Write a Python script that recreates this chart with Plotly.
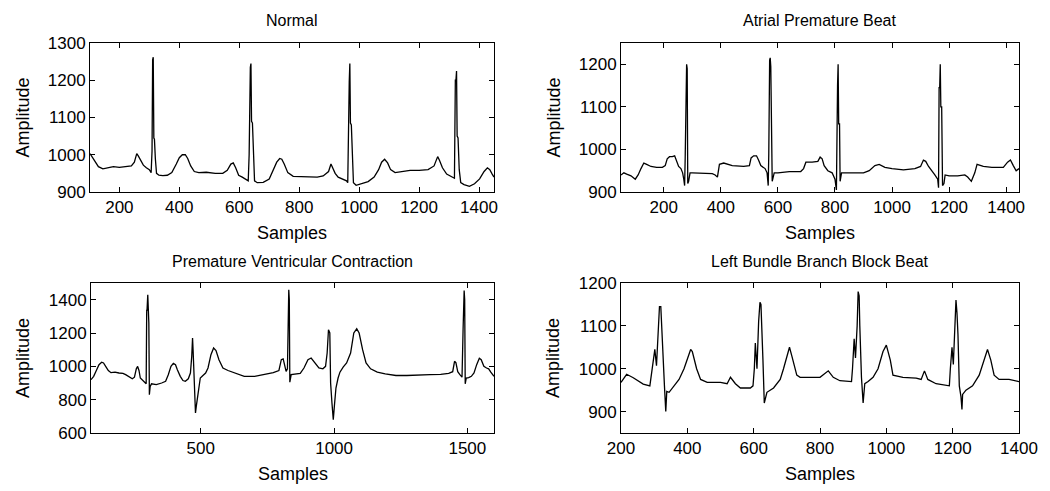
import plotly.graph_objects as go

# ---------------- data ----------------
normal_x = [102, 112, 120, 130, 145, 160, 180, 200, 220, 240, 250, 258, 263, 270, 280, 290, 300, 306,
            309, 311, 313, 315, 317, 320, 324, 332, 345, 360, 375, 390, 400, 410, 420, 428, 438, 450,
            465, 490, 520, 545, 560, 572, 580, 588, 598, 610, 622, 630, 633, 635, 637, 639, 641, 644,
            647, 651, 660, 680, 700, 715, 725, 735, 742, 750, 762, 780, 830, 860, 880, 898, 906, 912,
            920, 930, 945, 958, 962, 965, 967, 969, 971, 974, 977, 981, 990, 1010, 1030, 1050, 1065,
            1075, 1085, 1095, 1105, 1120, 1140, 1170, 1200, 1230, 1250, 1262, 1268, 1278, 1292, 1305,
            1318, 1321, 1323, 1325, 1327, 1330, 1334, 1339, 1350, 1368, 1385, 1402, 1417, 1428, 1436,
            1444, 1450]
normal_y = [1003, 990, 978, 968, 962, 965, 968, 966, 968, 970, 980, 1003, 997, 985, 972, 965, 960, 952,
            1010, 1255, 1262, 1045, 1042, 990, 950, 945, 944, 945, 952, 975, 992, 1000, 1000, 990, 970,
            955, 952, 953, 950, 950, 958, 975, 978, 965, 945, 940, 935, 930, 1000, 1235, 1235, 1245,
            1090, 1085, 1000, 930, 925, 926, 935, 960, 980, 990, 988, 975, 952, 942, 942, 940, 943,
            955, 975, 965, 950, 940, 935, 930, 925, 1195, 1195, 1245, 1085, 1080, 1000, 925, 918, 922,
            928, 940, 960, 980, 988, 978, 960, 952, 955, 958, 958, 960, 970, 995, 985, 965, 948, 942,
            937, 1200, 1200, 1225, 1050, 1045, 960, 925, 920, 915, 922, 935, 955, 965, 960,
            948, 940]

apb_x = [50, 60, 70, 85, 100, 110, 120, 130, 140, 155, 175, 195, 205, 212, 220, 230, 238, 245, 252,
         260, 266, 270, 273, 275, 278, 280, 282, 284, 287, 292, 300, 340, 370, 380, 388, 395, 410,
         440, 480, 500, 506, 515, 525, 532, 540, 555, 562, 566, 568, 571, 573, 575, 577, 580, 587,
         600, 640, 680, 690, 698, 720, 740, 748, 755, 762, 775, 790, 800, 805, 807, 809, 811, 813,
         816, 818, 823, 860, 900, 920, 940, 955, 975, 1000, 1040, 1080, 1100, 1110, 1118, 1128,
         1140, 1150, 1160, 1163, 1165, 1167, 1169, 1171, 1174, 1177, 1182, 1186, 1200, 1230, 1255,
         1265, 1278, 1290, 1298, 1320, 1350, 1390, 1405, 1415, 1425, 1435, 1445]
apb_y = [940, 945, 942, 938, 930, 940, 955, 968, 965, 960, 958, 958, 962, 978, 983, 983, 985, 970, 960,
         955, 945, 930, 915, 980, 1190, 1200, 1190, 920, 925, 945, 945, 943, 943, 940, 935, 965, 968,
         962, 960, 962, 980, 985, 985, 975, 962, 955, 945, 915, 990, 1210, 1215, 1195, 995, 925, 945,
         945, 948, 948, 955, 970, 970, 972, 982, 978, 962, 950, 945, 930, 905, 1150, 1150, 1200, 1060,
         1060, 925, 945, 945, 945, 950, 962, 965, 958, 955, 952, 955, 960, 975, 972, 960,
         950, 940, 930, 910, 1145, 1145, 1200, 1100, 1100, 915, 920, 940, 938, 938, 940,
         935, 925, 945, 965, 960, 958, 958, 970, 975, 962, 950, 955]

pvc_x = [88, 98, 108, 118, 128, 135, 143, 153, 163, 178, 193, 208, 218, 231, 243, 251, 258, 263, 268,
         273, 282, 291, 295, 297, 298, 301, 303, 305, 307, 310, 315, 333, 353, 368, 378, 388, 397,
         405, 412, 423, 433, 442, 453, 461, 466, 469, 471, 474, 477, 480, 483, 489, 498, 508, 518,
         527, 538, 548, 557, 568, 583, 602, 633, 663, 702, 743, 772, 793, 802, 809, 815, 820, 825,
         829, 830, 832, 834, 839, 853, 873, 887, 902, 914, 928, 943, 958, 968, 974, 979, 984,
         987, 992, 997, 1001, 1007, 1015, 1022, 1034, 1047, 1062, 1074, 1085, 1094, 1107, 1120,
         1137, 1162, 1192, 1232, 1273, 1322, 1360, 1400, 1430, 1445, 1452, 1457, 1464, 1472, 1480,
         1484, 1486, 1488, 1490, 1492, 1496, 1505, 1515, 1525, 1535, 1545, 1552, 1562, 1572, 1580,
         1588, 1600]
pvc_y = [920, 940, 975, 1010, 1025, 1020, 1000, 975, 962, 965, 960, 958, 950, 935, 925, 935, 985, 1000,
         975, 930, 915, 905, 895, 1340, 1330, 1430, 1260, 1260, 830, 880, 895, 890, 900, 910, 950, 1000,
         1018, 1010, 980, 940, 915, 910, 925, 960, 1060, 1170, 1100, 1000, 820, 720, 760, 830, 930, 945,
         960, 990, 1070, 1110, 1095, 1040, 990, 975, 955, 940, 940, 955, 962, 975, 1040, 1045, 990, 970,
         985, 1460, 1460, 1400, 905, 950, 952, 958, 990, 1040, 1050, 1020, 990, 985, 1000, 1080, 1220,
         1200, 900, 780, 680, 760, 870, 930, 965, 995, 1020, 1080, 1200, 1225, 1200, 1100, 1020,
         985, 965, 955, 945, 945, 950, 950, 952, 958, 968, 1030, 1022, 968, 950, 935,
         1220, 1450, 1455, 1400, 895, 930, 932, 940, 960, 1010, 1048, 1040, 1000, 990, 985,
         965, 940]

lbbb_x = [200, 217, 237, 267, 287, 292, 302, 307, 312, 316, 320, 323, 327, 331, 335, 338, 345, 360,
          375, 390, 400, 410, 415, 428, 440, 460, 500, 520, 530, 545, 560, 590, 598, 602, 605, 610,
          615, 619, 622, 625, 628, 632, 635, 640, 660, 680, 690, 708, 715, 730, 740, 800, 825, 840,
          860, 895, 898, 903, 907, 912, 915, 918, 920, 925, 930, 935, 945, 960, 975, 990, 1000, 1012,
          1020, 1050, 1090, 1105, 1115, 1125, 1150, 1185, 1190, 1193, 1198, 1202, 1205, 1210, 1213,
          1216, 1220, 1225, 1228, 1230, 1240, 1260, 1280, 1295, 1305, 1315, 1325, 1340, 1370, 1400]
lbbb_y = [968, 987, 979, 964, 960, 991, 1045, 1007, 1090, 1145, 1145, 1085, 1040, 960, 900, 947, 945,
          960, 975, 1000, 1025, 1045, 1040, 1000, 975, 968, 968, 965, 980, 965, 955, 955, 960, 1000,
          1060, 1000, 1110, 1155, 1150, 1100, 1020, 920, 930, 945, 955, 975, 1000, 1050, 1030, 985,
          980, 980, 995, 980, 972, 970, 1000, 1070, 1025, 1100, 1180, 1170, 1100, 980, 920, 965, 970,
          980, 1000, 1040, 1055, 1020, 985, 980, 978, 975, 995, 975, 965, 962, 960, 1000, 1050, 1010,
          1060, 1160, 1130, 1080, 960, 935, 905, 940, 950, 960, 985, 1020, 1045, 1020, 985, 975, 975,
          970]

titles = ["Normal", "Atrial Premature Beat", "Premature Ventricular Contraction",
          "Left Bundle Branch Block Beat"]
x_ranges = [[102, 1450], [50, 1445], [88, 1600], [200, 1400]]
y_ranges = [[900, 1300], [900, 1250], [600, 1500], [850, 1200]]
x_dticks = [200, 200, 500, 200]
y_dticks = [100, 100, 200, 100]
x_label = "Samples"
y_label = "Amplitude"

# ---------------- layout geometry (page pixels) ----------------
# the page body keeps its default 8px margin, so the figure is sized to fit the window
OFF = 8
W, H = 1050 - OFF, 491 - OFF
boxes = [(90, 494, 43, 192), (621, 1019, 43, 192), (91, 494, 283, 433), (621, 1019, 283, 433)]


def fx(px):
    return (px - OFF) / W


def fy(py):
    return 1 - (py - OFF) / H


series = [(normal_x, normal_y), (apb_x, apb_y), (pvc_x, pvc_y), (lbbb_x, lbbb_y)]

fig = go.Figure()
font_family = "Liberation Sans, Arial, Helvetica, sans-serif"
annotations = []
for i, ((xs, ys), (l, r, t, b)) in enumerate(zip(series, boxes)):
    n = "" if i == 0 else str(i + 1)
    fig.add_trace(go.Scatter(x=xs, y=ys, mode="lines", line=dict(color="black", width=1.3),
                             xaxis="x" + n, yaxis="y" + n, showlegend=False, hoverinfo="skip"))
    common = dict(showline=True, linecolor="black", linewidth=1, mirror="ticks", ticks="inside",
                  ticklen=5, tickcolor="black", showgrid=False, zeroline=False, automargin=False,
                  tickfont=dict(family=font_family, size=17, color="black"))
    fig.layout["xaxis" + n] = dict(domain=[fx(l), fx(r)], range=x_ranges[i], anchor="y" + n,
                                   dtick=x_dticks[i], tick0=0, **common)
    fig.layout["yaxis" + n] = dict(domain=[fy(b), fy(t)], range=y_ranges[i], anchor="x" + n,
                                   dtick=y_dticks[i], tick0=0, **common)
    cx = (l + r) / 2
    annotations.append(dict(text=titles[i], x=fx(cx), y=fy(t - 22), xref="paper", yref="paper",
                            showarrow=False, xanchor="center", yanchor="middle",
                            font=dict(family=font_family, size=16, color="black")))
    annotations.append(dict(text=x_label, x=fx(cx), y=fy(b + 41), xref="paper", yref="paper",
                            showarrow=False, xanchor="center", yanchor="middle",
                            font=dict(family=font_family, size=18, color="black")))
    annotations.append(dict(text=y_label, x=fx(l - 68), y=fy((t + b) / 2), xref="paper",
                            yref="paper", showarrow=False, xanchor="center", yanchor="middle",
                            textangle=-90, font=dict(family=font_family, size=18, color="black")))

fig.update_layout(template="none", width=W, height=H, autosize=False,
                  margin=dict(l=0, r=0, t=0, b=0, pad=0),
                  paper_bgcolor="white", plot_bgcolor="white", annotations=annotations)
fig.write_html("out.html")
